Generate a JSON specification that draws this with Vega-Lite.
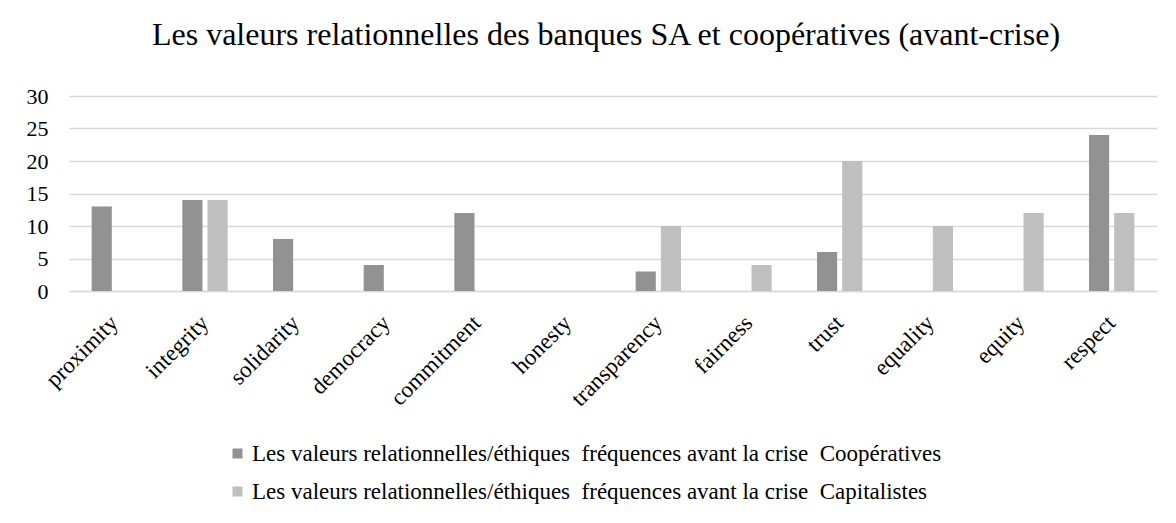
{
  "$schema": "https://vega.github.io/schema/vega-lite/v6.json",
  "width": 1088,
  "height": 195,
  "autosize": {"type": "none"},
  "padding": {"left": 69, "top": 96, "right": 19, "bottom": 232},
  "background": "white",
  "title": {
    "text": "Les valeurs relationnelles des banques SA et coopératives (avant-crise)",
    "font": "Liberation Serif",
    "fontSize": 32,
    "fontWeight": "normal",
    "color": "#000000",
    "anchor": "middle",
    "dx": -7,
    "offset": 33
  },
  "data": {
    "values": [
      {"valeur": "proximity", "serie": "Coopératives", "freq": 13},
      {"valeur": "proximity", "serie": "Capitalistes", "freq": 0},
      {"valeur": "integrity", "serie": "Coopératives", "freq": 14},
      {"valeur": "integrity", "serie": "Capitalistes", "freq": 14},
      {"valeur": "solidarity", "serie": "Coopératives", "freq": 8},
      {"valeur": "solidarity", "serie": "Capitalistes", "freq": 0},
      {"valeur": "democracy", "serie": "Coopératives", "freq": 4},
      {"valeur": "democracy", "serie": "Capitalistes", "freq": 0},
      {"valeur": "commitment", "serie": "Coopératives", "freq": 12},
      {"valeur": "commitment", "serie": "Capitalistes", "freq": 0},
      {"valeur": "honesty", "serie": "Coopératives", "freq": 0},
      {"valeur": "honesty", "serie": "Capitalistes", "freq": 0},
      {"valeur": "transparency", "serie": "Coopératives", "freq": 3},
      {"valeur": "transparency", "serie": "Capitalistes", "freq": 10},
      {"valeur": "fairness", "serie": "Coopératives", "freq": 0},
      {"valeur": "fairness", "serie": "Capitalistes", "freq": 4},
      {"valeur": "trust", "serie": "Coopératives", "freq": 6},
      {"valeur": "trust", "serie": "Capitalistes", "freq": 20},
      {"valeur": "equality", "serie": "Coopératives", "freq": 0},
      {"valeur": "equality", "serie": "Capitalistes", "freq": 10},
      {"valeur": "equity", "serie": "Coopératives", "freq": 0},
      {"valeur": "equity", "serie": "Capitalistes", "freq": 12},
      {"valeur": "respect", "serie": "Coopératives", "freq": 24},
      {"valeur": "respect", "serie": "Capitalistes", "freq": 12}
    ]
  },
  "mark": {"type": "bar"},
  "encoding": {
    "x": {
      "field": "valeur",
      "type": "nominal",
      "sort": null,
      "scale": {"paddingInner": 0.5, "paddingOuter": 0.25},
      "axis": {
        "title": null,
        "labelAngle": -45,
        "labelAlign": "right",
        "labelBaseline": "middle",
        "labelFont": "Liberation Serif",
        "labelFontSize": 23,
        "labelColor": "#000000",
        "labelPadding": 28,
        "labelDx": -8,
        "labelDy": 4,
        "ticks": false,
        "domain": true,
        "domainColor": "#d9d9d9",
        "domainWidth": 1.5
      }
    },
    "xOffset": {
      "field": "serie",
      "type": "nominal",
      "sort": ["Coopératives", "Capitalistes"],
      "scale": {"paddingInner": 0.2}
    },
    "y": {
      "field": "freq",
      "type": "quantitative",
      "scale": {"domain": [0, 30]},
      "axis": {
        "title": null,
        "values": [0, 5, 10, 15, 20, 25, 30],
        "labelFont": "Liberation Serif",
        "labelFontSize": 22,
        "labelColor": "#000000",
        "labelPadding": 21,
        "ticks": false,
        "domain": false,
        "grid": true,
        "gridColor": "#d9d9d9",
        "gridWidth": 1.5
      }
    },
    "color": {
      "field": "serie",
      "type": "nominal",
      "sort": ["Coopératives", "Capitalistes"],
      "scale": {"domain": ["Coopératives", "Capitalistes"], "range": ["#929292", "#bfbfbf"]},
      "legend": {
        "title": null,
        "orient": "none",
        "legendX": 157,
        "legendY": 346,
        "direction": "vertical",
        "symbolType": "square",
        "symbolSize": 100,
        "symbolStrokeWidth": 0,
        "labelFont": "Liberation Serif",
        "labelFontSize": 23,
        "labelColor": "#000000",
        "labelOffset": 3,
        "rowPadding": 14,
        "labelLimit": 1000,
        "labelExpr": "'Les valeurs relationnelles/éthiques \u00a0fréquences avant la crise \u00a0' + datum.label"
      }
    }
  },
  "config": {
    "view": {"stroke": null}
  }
}
